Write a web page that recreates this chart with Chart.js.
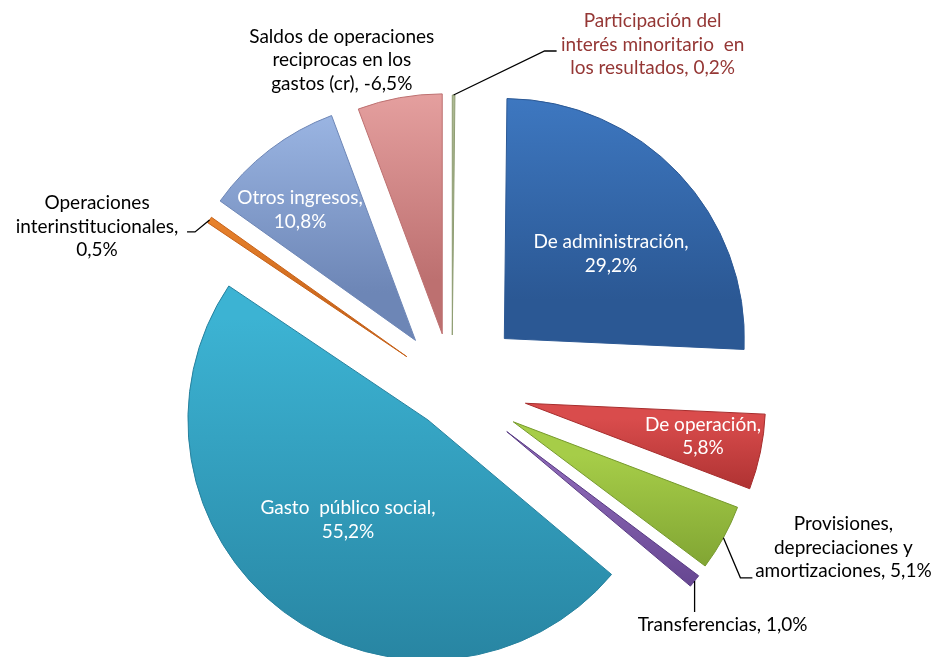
<!DOCTYPE html>
<html><head><meta charset="utf-8">
<script src="https://cdn.jsdelivr.net/npm/chart.js@4.4.1/dist/chart.umd.min.js"></script>
<style>html,body{margin:0;padding:0;background:#fff}#wrap{width:937px;height:657px;position:relative}</style>
</head><body><div id="wrap"><canvas id="c" width="937" height="657"></canvas></div>
<script>
// ---- data ----
const categories = [
  'Participación del interés minoritario en los resultados',
  'De administración',
  'De operación',
  'Provisiones, depreciaciones y amortizaciones',
  'Transferencias',
  'Gasto público social',
  'Operaciones interinstitucionales',
  'Otros ingresos',
  'Saldos de operaciones reciprocas en los gastos (cr)'
];
const shares = [0.2, 29.2, 5.8, 5.1, 1.0, 55.2, 0.5, 10.8, 6.5];
const labelLines = [
  ['Participación del', 'interés minoritario  en', 'los resultados, 0,2%'],
  ['De administración,', '29,2%'],
  ['De operación,', '5,8%'],
  ['Provisiones,', 'depreciaciones y', 'amortizaciones, 5,1%'],
  ['Transferencias, 1,0%'],
  ['Gasto  público social,', '55,2%'],
  ['Operaciones', 'interinstitucionales,', '0,5%'],
  ['Otros ingresos,', '10,8%'],
  ['Saldos de operaciones', 'reciprocas en los', 'gastos (cr), -6,5%']
];
// ---- styles ----
const sliceOffsets = [53, 72, 75, 70, 70, 40, 55, 60, 55];   // explode distance in px
const C_LIGHT = ['#b6c29c','#427fcb','#d94c4c','#a6cd48','#8a66b4','#3cb3d3','#f28c32','#a6c1ee','#f0adac'];
const C_DARK  = ['#909e74','#2b5894','#a62d2d','#76992d','#583a83','#26819e','#c6621a','#6d86b6','#bd7070'];
const PIE_R = 240;

function sliceGradient(context) {
  const chart = context.chart, ca = chart.chartArea, i = context.dataIndex;
  if (!ca) return C_LIGHT[i];
  const total = shares.reduce((a, b) => a + b, 0);
  let cum = 0; for (let k = 0; k < i; k++) cum += shares[k];
  const st = -Math.PI / 2 + cum / total * 2 * Math.PI;
  const en = st + shares[i] / total * 2 * Math.PI;
  const mid = (st + en) / 2;
  const cy = (ca.top + ca.bottom) / 2 + Math.sin(mid) * sliceOffsets[i];
  let ymin = cy, ymax = cy;
  for (let t = 0; t <= 40; t++) {
    const y = cy + Math.sin(st + (en - st) * t / 40) * PIE_R;
    ymin = Math.min(ymin, y); ymax = Math.max(ymax, y);
  }
  if (ymax - ymin < 2) ymax = ymin + 2;
  const g = chart.ctx.createLinearGradient(0, ymin, 0, ymax);
  g.addColorStop(0, C_LIGHT[i]);
  g.addColorStop(1, C_DARK[i]);
  return g;
}

// Chart.js v4 translates an arc by offset/4, grows its radius by
// (offset/4)*(1-sin(circumference)) and trims its angle accordingly;
// undo the radius growth and the angular trim so every slice keeps its true shape.
const evenSlices = {
  id: 'evenSlices',
  afterDatasetUpdate(chart) {
    const meta = chart.getDatasetMeta(0);
    meta.data.forEach((arc, i) => {
      const circ = arc.circumference != null ? arc.circumference : (arc.endAngle - arc.startAngle);
      const fix = 1 - Math.sin(Math.min(Math.PI, circ));
      const ro = sliceOffsets[i] * fix;
      arc.outerRadius = PIE_R - ro;
      const d = (ro / Math.PI) / PIE_R / 2;
      arc.startAngle -= d;
      arc.endAngle += d;
    });
  }
};

const sliceLabels = {
  id: 'sliceLabels',
  afterDatasetsDraw(chart, args, opts) {
    const ctx = chart.ctx;
    const meta = chart.getDatasetMeta(0);
    meta.data.forEach((arc, i) => {
      const cfg = opts.items[i];
      const p = arc.getProps(['x', 'y', 'startAngle', 'endAngle'], true);
      const mid = (p.startAngle + p.endAngle) / 2;
      const off = sliceOffsets[i];
      const cx = p.x + Math.cos(mid) * off, cy = p.y + Math.sin(mid) * off;
      ctx.save();
      ctx.font = opts.font;
      ctx.textAlign = 'center';
      ctx.textBaseline = 'middle';
      let tx, ty;
      if (cfg.inside) {
        const a = mid + cfg.da * Math.PI / 180;
        const r = PIE_R * cfg.r;
        tx = cx + Math.cos(a) * r; ty = cy + Math.sin(a) * r;
      } else {
        const ox = cx + Math.cos(mid) * PIE_R, oy = cy + Math.sin(mid) * PIE_R;
        if (cfg.path && cfg.path.length) {
          ctx.beginPath(); ctx.moveTo(ox, oy);
          cfg.path.forEach(([dx, dy]) => ctx.lineTo(ox + dx, oy + dy));
          ctx.strokeStyle = '#000'; ctx.lineWidth = 1.3; ctx.stroke();
        }
        tx = ox + cfg.text[0]; ty = oy + cfg.text[1];
      }
      const lines = labelLines[i];
      const lh = opts.lineHeight;
      const y0 = ty - (lines.length - 1) * lh / 2;
      ctx.fillStyle = cfg.color;
      lines.forEach((s, k) => ctx.fillText(s, tx, y0 + k * lh));
      ctx.restore();
    });
  }
};

new Chart(document.getElementById('c'), {
  type: 'pie',
  data: {
    labels: categories,
    datasets: [{
      data: shares,
      offset: sliceOffsets.map(v => v * 4),
      backgroundColor: sliceGradient,
      borderColor: C_DARK,
      borderWidth: 1,
      clip: false
    }]
  },
  options: {
    responsive: false,
    animation: false,
    events: [],
    radius: PIE_R,
    layout: { padding: { top: 119, right: 33, left: 0, bottom: 0 } },
    plugins: {
      legend: { display: false },
      tooltip: { enabled: false },
      sliceLabels: {
        font: '19px Lato',
        lineHeight: 23.5,
        items: [
          { inside: false, color: '#953735', path: [[91, -44], [103, -44]], text: [199, -50.5] },
          { inside: true, color: '#ffffff', r: 0.567, da: 5 },
          { inside: true, color: '#ffffff', r: 0.7525, da: -1.2 },
          { inside: false, color: '#000000', path: [[17, 40], [29, 40]], text: [120, 10] },
          { inside: false, color: '#000000', path: [[0, 31]], text: [28, 44] },
          { inside: true, color: '#ffffff', r: 0.533, da: 1.7 },
          { inside: false, color: '#000000', path: [[-14.5, 12], [-22.5, 12]], text: [-112.5, 6.6] },
          { inside: true, color: '#ffffff', r: 0.726, da: -4 },
          { inside: false, color: '#000000', path: [], text: [-57.8, -37.8] }
        ]
      }
    }
  },
  plugins: [evenSlices, sliceLabels]
});
</script>
</body></html>
